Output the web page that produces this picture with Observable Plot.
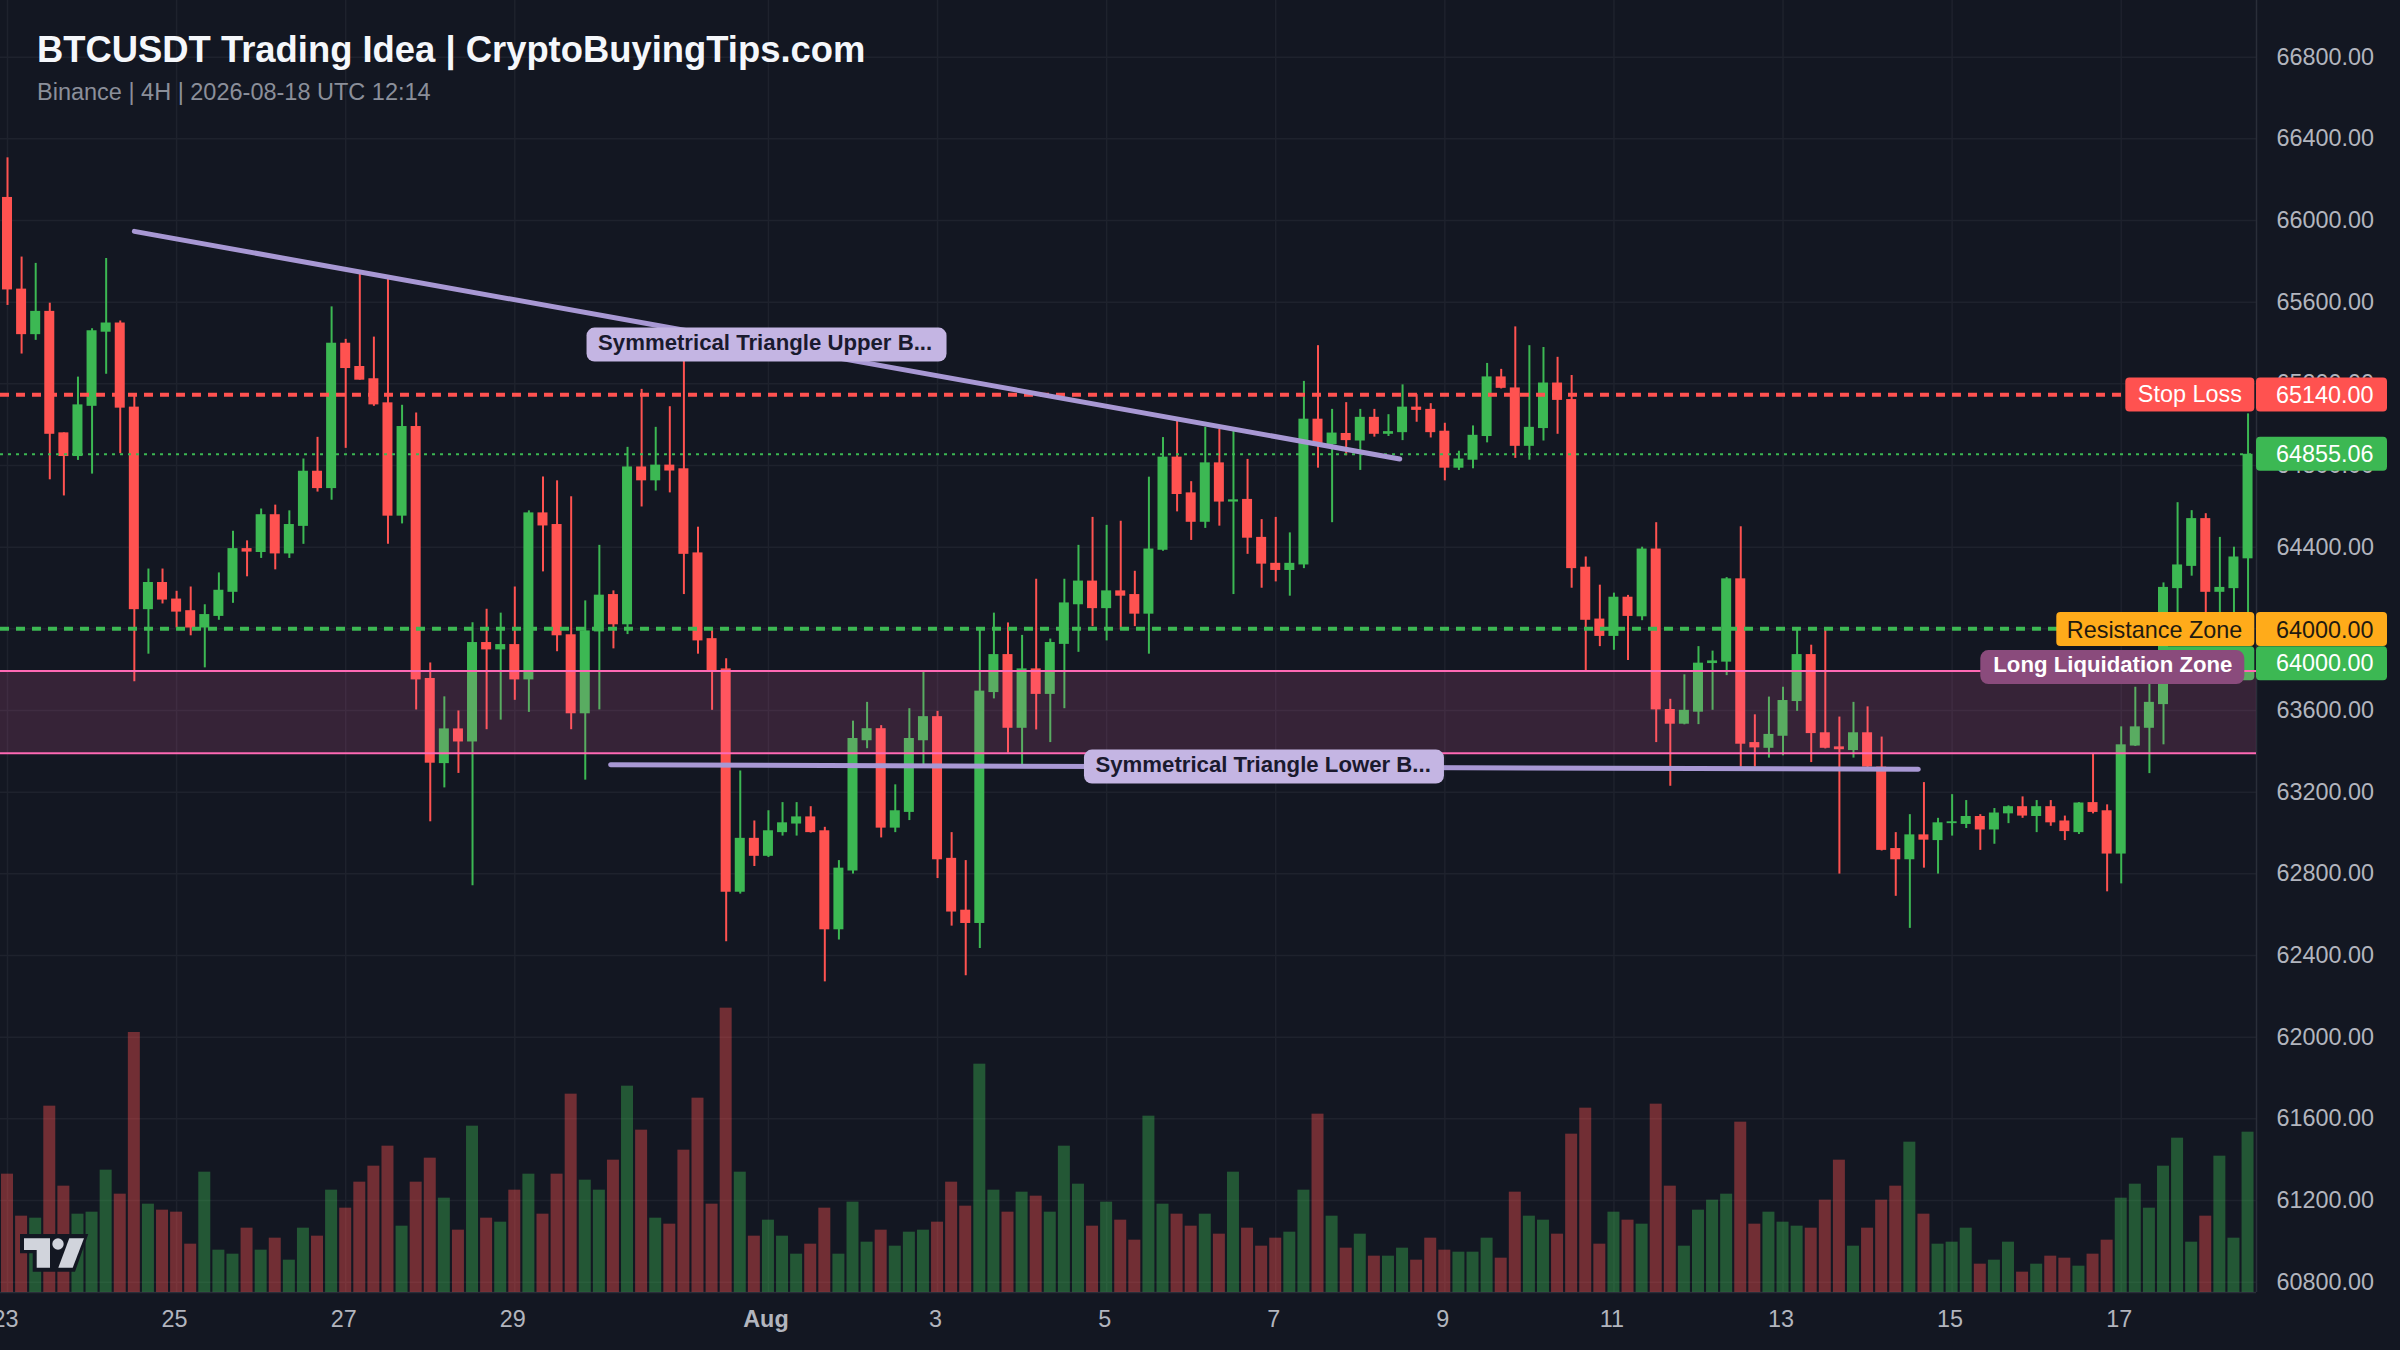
<!doctype html>
<html><head><meta charset="utf-8">
<style>html,body{margin:0;padding:0;background:#131722;overflow:hidden}</style>
<script src="https://cdn.jsdelivr.net/npm/d3@7"></script>
<script src="https://cdn.jsdelivr.net/npm/@observablehq/plot@0.6"></script>
</head><body><div id="chart"></div>
<script>
const titleText = "BTCUSDT Trading Idea | CryptoBuyingTips.com";
const subtitleText = "Binance | 4H | 2026-08-18 UTC 12:14";
const firstCandle = "2026-07-23T00:00:00Z";
const opens = [66113,65664,65441,65555,64960,64844,65090,65453,65498,65086,
64094,64227,64146,64089,64004,64061,64179,64393,64374,64559,
64367,64502,64772,64687,65399,65285,65225,65107,64552,64991,
63757,63340,63510,63446,63933,63897,63923,63750,64568,64511,
63971,63584,63985,64168,64020,64793,64725,64802,64784,64372,
63952,63804,62710,62974,62886,63002,63044,63079,63011,62526,
62814,63452,63511,63024,63101,63452,63570,62876,62622,62557,
63688,63874,63513,63804,63679,63924,64118,64234,64099,64186,
64168,64072,64385,64841,64666,64522,64813,64621,64634,64448,
64321,64286,64313,65027,64902,64957,64920,65036,64953,64961,
65086,65075,64968,64787,64826,64942,65234,65180,64894,64981,
65204,65123,64302,64048,63963,64155,64059,64391,63605,63533,
63592,63830,63837,64245,63443,63415,63474,63644,63874,63491,
63422,63404,63491,63323,62924,62869,62991,62963,63046,63042,
63081,63015,63094,63129,63081,63129,63059,63002,63149,63109,
62897,63426,63513,63629,64197,64306,64540,64179,64197,64343];
const closes = [65660,65441,65555,64953,64844,65097,65460,65498,65081,64094,
64227,64141,64082,64004,64070,64189,64393,64376,64559,64367,
64511,64772,64687,65399,65275,65218,65097,64552,64991,63750,
63342,63510,63446,63933,63897,63923,63750,64568,64504,63966,
63584,63990,64165,64020,64793,64725,64802,64773,64365,63941,
63793,62710,62974,62886,63011,63050,63079,63002,62526,62828,
63463,63511,63024,63109,63463,63570,62869,62613,62557,63695,
63874,63513,63804,63679,63933,64127,64234,64099,64186,64160,
64072,64391,64841,64658,64522,64813,64621,64632,64444,64317,
64286,64321,65027,64896,64959,64922,65036,64953,64966,65086,
65070,64961,64787,64832,64948,65234,65178,64894,64987,65204,
65119,64295,64042,63963,64155,64061,64391,63603,63533,63601,
63832,63843,64245,63435,63417,63483,63649,63874,63487,63415,
63408,63491,63323,62915,62869,62991,62965,63050,63055,63081,
63015,63098,63129,63083,63129,63050,63007,63147,63101,62897,
63432,63520,63640,64203,64313,64540,64179,64203,64352,64855.06];
const highs = [66307,65821,65790,65595,64960,65233,65470,65814,65508,65145,
64293,64293,64184,64205,64118,64274,64478,64431,64587,64606,
64578,64832,64938,65577,65418,65738,65429,65714,65095,65057,
63833,63667,63598,64030,64096,64077,64205,64578,64744,64725,
64647,64137,64409,64186,64889,65173,64987,65088,65370,64498,
64000,63854,63304,63059,63109,63149,63149,63129,63028,62865,
63548,63640,63526,63236,63609,63788,63596,63002,62865,64000,
64077,64029,63968,64243,63950,64243,64409,64546,64507,64527,
64282,64743,64937,65016,64721,64987,64977,64972,64830,64535,
64546,64470,65212,65387,65075,65108,65075,65075,65049,65195,
65147,65103,65007,64870,64994,65300,65271,65479,65387,65378,
65330,65241,64352,64214,64175,64164,64400,64520,63655,63775,
63913,63891,64251,64500,63579,63666,63714,64000,63920,64000,
63568,63640,63618,63470,63002,63090,63247,63072,63188,63159,
63090,63120,63133,63177,63159,63159,63083,63149,63389,63138,
63520,63714,63793,64225,64618,64579,64564,64448,64400,65053];
const lows = [65584,65346,65413,64730,64651,64825,64758,65247,64858,63741,
63876,64122,64004,63966,63809,64042,64125,64255,64345,64289,
64345,64414,64670,64630,64884,65218,65090,64414,64514,63603,
63055,63221,63292,62742,63506,63553,63650,63591,64279,63888,
63506,63259,63603,63902,63972,64597,64675,64666,64168,63876,
63601,62467,62701,62836,62880,62985,62985,63000,62271,62476,
62799,63413,62976,63002,63061,63334,62777,62544,62301,62434,
63657,63391,63334,63505,63443,63609,63885,64011,63941,63994,
64011,63876,64380,64573,64433,64492,64503,64168,64365,64199,
64230,64160,64295,64787,64520,64848,64776,64939,64942,64922,
65012,64935,64725,64776,64784,64911,65175,64835,64826,64920,
64953,64199,63793,63913,63895,63845,64040,63443,63229,63530,
63531,63601,63771,63323,63323,63367,63378,63596,63345,63412,
62799,63367,63301,62912,62690,62533,62828,62799,62985,63022,
62915,62945,63046,63072,63002,63033,62963,62993,63094,62712,
62751,63424,63291,63432,64050,64258,64050,64040,64040,64030];
const volumes = [355,229,223,559,319,235,241,367,295,780,
265,247,241,145,361,127,115,193,127,163,
97,193,169,307,253,331,379,439,199,331,
403,283,187,499,223,211,307,355,235,355,
595,337,307,397,619,487,223,205,427,583,
265,853,361,169,217,169,115,145,253,115,
271,151,187,139,181,187,211,331,259,685,
307,241,301,289,241,439,325,199,271,217,
157,529,265,235,199,235,175,361,193,139,
163,181,307,535,229,133,175,109,109,133,
97,163,127,121,121,163,103,301,229,217,
175,475,553,145,241,217,205,565,319,139,
247,277,295,511,205,241,211,199,193,277,
397,139,193,277,319,451,235,145,151,193,
85,97,151,61,85,109,103,79,115,157,
283,325,253,379,463,151,229,409,163,481];
const priceTicks = [60800,61200,61600,62000,62400,62800,63200,63600,64000,64400,64800,65200,65600,66000,66400,66800];
const dayTickDates = ["2026-07-23","2026-07-25","2026-07-27","2026-07-29","2026-08-03","2026-08-05","2026-08-07","2026-08-09","2026-08-11","2026-08-13","2026-08-15","2026-08-17"];
const dayTickLabels = ["23","25","27","29","3","5","7","9","11","13","15","17"];
const monthTickDates = ["2026-08-01"];
const monthTickLabels = ["Aug"];
const stopLevel = 65147, entryLevel = 64000, lastLevel = 64855.06;
const zoneTop = 63793, zoneBottom = 63391;
const upperTrend = [{i:9,p:65947},{i:98.8,p:64832}];
const lowerTrend = [{i:42.8,p:63334},{i:135.6,p:63312}];

const H = 3600e3, t0 = +new Date(firstCandle);
const at = i => new Date(t0 + i*4*H);
const UP="#3cb853", DOWN="#ff5250", BG="#131722", GRID="#1e222d", AXIS="#b2b5be", PINK="#ff69b4", LAV="#a898d4";
const candles = opens.map((o,i)=>({t:at(i),o,c:closes[i],h:highs[i],l:lows[i],v:volumes[i],col:closes[i]>=o?UP:DOWN}));
const yBase = 60749.6, volUnit = 1.6326;
const pad = (d,w)=>new Date(+d+w*H);
const dayDates = dayTickDates.map(d=>new Date(d)), monthDates = monthTickDates.map(d=>new Date(d));
const dom = [new Date(t0-1.99*H), new Date(t0+638.4*H)];
const F = "'Liberation Sans', Arial, sans-serif";

function pillMark(items){
  return (index, scales, values, dims) => {
    const g = d3.create("svg:g");
    const axisX = dims.width - dims.marginRight;
    for (const it of items) {
      const cx = it.at!==undefined ? scales.x(it.at) : null;
      const cy = scales.y(it.price) + (it.dy||0);
      const left = cx!==null ? cx - it.w/2 : (it.side==="L" ? axisX - 1.7 - it.w - (it.inset||0) : axisX);
      const r = it.rx===undefined?4:it.rx;
      g.append("rect").attr("x",left).attr("y",cy-it.h/2).attr("width",it.w).attr("height",it.h)
        .attr("rx",r).attr("fill",it.fill);
      if (it.text) g.append("text").attr("x",left+it.tx).attr("y",cy+(it.tdy||0)).attr("dominant-baseline","central")
        .attr("fill",it.color).attr("font-size",it.fs).attr("font-weight",it.fw||400).attr("font-family",F)
        .attr("text-anchor",it.anchor||"start").text(it.text);
    }
    return g.node();
  };
}
function logoMark(){
  return (index, scales, values, dims) => {
    const g = d3.create("svg:g");
    const b = dims.height;
    const poly = (d,fill)=>g.append("path").attr("d",d).attr("fill",fill);
    poly(`M20 ${b-116}H88.3L75 ${b-78.3}H32.7V${b-96.7}H20Z`, BG);
    poly(`M24 ${b-111.7}H50V${b-82.3}H36.7V${b-100}H24Z`, "#d1d4dc");
    poly(`M69.3 ${b-111.7}H84L72.7 ${b-82.3}H58.3Z`, "#d1d4dc");
    g.append("circle").attr("cx",58).attr("cy",b-106).attr("r",5.7).attr("fill","#d1d4dc");
    return g.node();
  };
}

const plot = Plot.plot({
  width:2400, height:1350, marginLeft:0, marginRight:144, marginTop:0, marginBottom:58,
  style:{background:BG, fontFamily:F},
  x:{type:"utc", domain:dom, range:[0,2256]},
  y:{type:"linear", domain:[yBase,67077.6], range:[1292,0]},
  marks:[
    Plot.gridX({ticks:[...dayDates,...monthDates], stroke:GRID, strokeOpacity:1, strokeWidth:1.5}),
    Plot.gridY({ticks:priceTicks, stroke:GRID, strokeOpacity:1, strokeWidth:1.5}),
    Plot.ruleX([dom[1]],{stroke:"#2a2e39",strokeWidth:1.5}),
    Plot.ruleY([yBase],{stroke:"#2a2e39",strokeWidth:1.5}),
    Plot.axisY({anchor:"right",ticks:priceTicks,tickFormat:d=>d.toFixed(2),tickSize:0,tickPadding:20,fontSize:23.4,fill:AXIS,label:null}),
    Plot.axisX({ticks:dayDates,tickFormat:d=>dayTickLabels[dayDates.findIndex(x=>+x===+d)],tickSize:0,tickPadding:18,dx:-2,fontSize:23.4,fill:AXIS,label:null}),
    Plot.axisX({ticks:monthDates,tickFormat:d=>monthTickLabels[0],tickSize:0,tickPadding:18,dx:-2.5,fontSize:23.4,fontWeight:700,fill:AXIS,label:null}),
    // volume
    Plot.rect(candles,{x1:d=>pad(d.t,-1.7),x2:d=>pad(d.t,1.7),y1:yBase,y2:d=>yBase+d.v*volUnit,fill:"col",fillOpacity:0.4}),
    // candles
    Plot.ruleX(candles,{x:"t",y1:"l",y2:"h",stroke:"col",strokeWidth:2}),
    Plot.rect(candles,{x1:d=>pad(d.t,-1.42),x2:d=>pad(d.t,1.42),y1:"o",y2:"c",fill:"col"}),
    pillMark([{side:"L",price:entryLevel,dy:35,w:95,h:34,fill:UP}]),
    // zone
    Plot.rect([{}],{x1:dom[0],x2:dom[1],y1:zoneBottom,y2:zoneTop,fill:PINK,fillOpacity:0.15}),
    Plot.ruleY([zoneTop,zoneBottom],{stroke:PINK,strokeWidth:2}),
    // levels
    Plot.ruleY([stopLevel],{stroke:DOWN,strokeWidth:4,strokeDasharray:"9,7"}),
    Plot.ruleY([entryLevel],{stroke:UP,strokeWidth:4,strokeDasharray:"9,7"}),
    Plot.ruleY([lastLevel],{stroke:UP,strokeWidth:2,strokeDasharray:"3,5"}),
    // trend lines
    Plot.line(upperTrend,{x:d=>at(d.i),y:"p",stroke:LAV,strokeWidth:5,strokeLinecap:"round"}),
    Plot.line(lowerTrend,{x:d=>at(d.i),y:"p",stroke:LAV,strokeWidth:5,strokeLinecap:"round"}),
    pillMark([
      {at:at(53.9),price:65390,w:360,h:34,rx:8,fill:"#c4b5e3",text:"Symmetrical Triangle Upper B...",tx:11.5,tdy:-2.5,fs:22.2,fw:700,color:"#1a1a2e"},
      {at:at(89.2),price:63323,w:360,h:34,rx:8,fill:"#c4b5e3",text:"Symmetrical Triangle Lower B...",tx:11.5,tdy:-2.5,fs:22.2,fw:700,color:"#1a1a2e"},
      {side:"L",price:65140,dy:-1,w:129,h:34,fill:DOWN,text:"Stop Loss",tx:12.5,tdy:-0.5,fs:23.4,color:"#fff"},
      {price:65140,dy:-1,w:131,h:34,fill:DOWN,text:"65140.00",tx:20,fs:23.4,color:"#fff"},
      {price:lastLevel,w:131,h:34,fill:UP,text:"64855.06",tx:20,fs:23.4,color:"#fff"},
      {side:"L",price:entryLevel,dy:0.7,w:198,h:34,fill:"#ffab1a",text:"Resistance Zone",tx:10.5,tdy:0.5,fs:23.4,color:"#1f1a10"},
      {price:entryLevel,dy:0.7,w:131,h:34,fill:"#ffab1a",text:"64000.00",tx:20,tdy:0.5,fs:23.4,color:"#1f1a10"},
      {price:entryLevel,dy:35,w:131,h:34,fill:UP,text:"64000.00",tx:20,fs:23.4,color:"#fff"},
      {side:"L",inset:10,price:zoneTop,dy:-3.5,w:264,h:34,rx:8,fill:"#8a4b7c",text:"Long Liquidation Zone",tx:13,tdy:-2.5,fs:22.2,fw:700,color:"#fff"}
    ]),
    logoMark(),
    Plot.text([titleText],{text:d=>d,frameAnchor:"top-left",dx:36.5,dy:50,lineAnchor:"middle",textAnchor:"start",fontSize:36.4,fontWeight:700,fill:"#f5f7fb"}),
    Plot.text([subtitleText],{text:d=>d,frameAnchor:"top-left",dx:36.5,dy:92,lineAnchor:"middle",textAnchor:"start",fontSize:23.5,fill:"#8b8f9a"})
  ]
});
document.getElementById("chart").appendChild(plot);
</script></body></html>
